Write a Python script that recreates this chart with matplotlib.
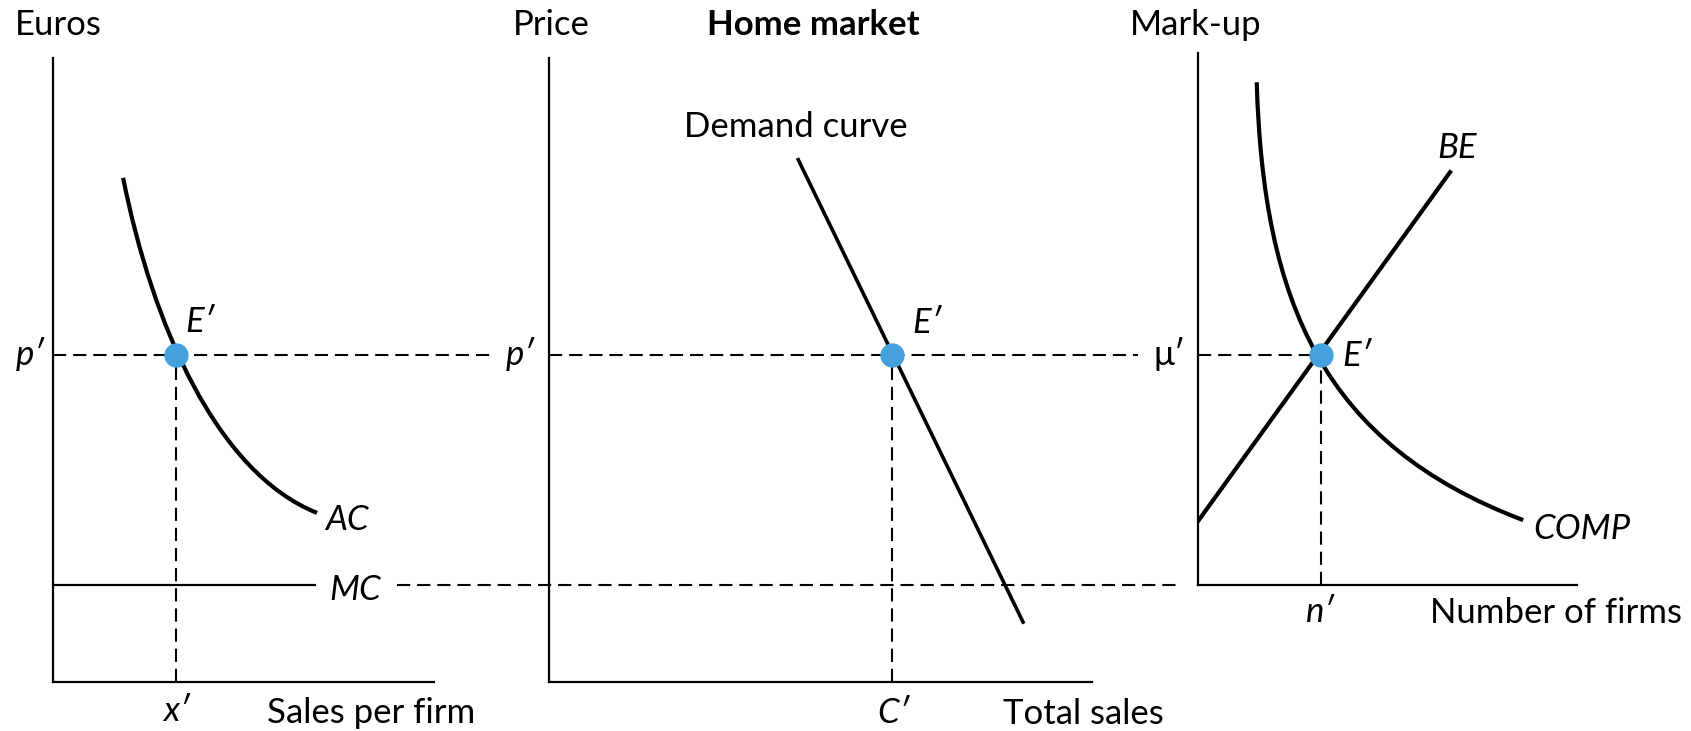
import matplotlib
matplotlib.use("Agg")
import matplotlib.pyplot as plt
from matplotlib.path import Path
from matplotlib.patches import PathPatch
from matplotlib.transforms import blended_transform_factory

# panel 1: firm costs (x = sales per firm, y = euros)
# AC curve as a cubic bezier: start, two control points, end
ac_x = [1.84, 2.61, 4.30, 6.93]
ac_y = [8.08, 5.72, 3.35, 2.71]
mc_x = [0, 6.88]
mc_level = 1.55
p_level = 5.24
x_eq = 3.23

# panel 2: home market demand
demand_x = [4.59, 8.73]
demand_y = [8.37, 0.96]
c_eq = 6.32

# panel 3: mark-up vs number of firms
comp_x = [1.55, 1.72, 3.30, 8.58]
comp_y = [9.45, 5.31, 2.64, 1.22]
be_x = [0, 6.65]
be_y = [1.20, 7.76]
mu_level = 4.32
n_eq = 3.24

W, H = 1691, 731
plt.rcParams["font.family"] = ["Lato", "DejaVu Sans"]
plt.rcParams["lines.scale_dashes"] = False
fs = 25
dot_color = "#45a1dd"
dash = (0, (9.5, 5))

fig = plt.figure(figsize=(W / 100, H / 100), dpi=100)


def box(l, r, b, t):
    return [l / W, 1 - b / H, (r - l) / W, (b - t) / H]


def txt(x, y, s, **kw):
    kw.setdefault("fontsize", fs)
    kw.setdefault("va", "center")
    fig.text(x / W, 1 - y / H, s, **kw)


def bezier(ax, xs, ys, lw):
    codes = [Path.MOVETO, Path.CURVE4, Path.CURVE4, Path.CURVE4]
    path = Path(list(zip(xs, ys)), codes)
    ax.add_patch(PathPatch(path, fill=False, edgecolor="black", lw=lw))


ax1 = fig.add_axes(box(53, 434, 682, 58))
ax2 = fig.add_axes(box(549, 1092, 682, 58))
ax3 = fig.add_axes(box(1198, 1577, 585, 53))

for ax in (ax1, ax2, ax3):
    ax.set_xlim(0, 10)
    ax.set_ylim(0, 10)
    ax.set_xticks([])
    ax.set_yticks([])
    ax.spines[["top", "right"]].set_visible(False)
    ax.spines[["left", "bottom"]].set_linewidth(1.6)
    ax.patch.set_visible(False)

# panel 1
bezier(ax1, ac_x, ac_y, 3)
ax1.plot(mc_x, [mc_level, mc_level], color="black", lw=1.6)
tr1 = blended_transform_factory(ax1.transAxes, ax1.transData)
ax1.plot([0, 1.152], [p_level, p_level], color="black", lw=1.5, ls=dash, transform=tr1, clip_on=False)
ax1.plot([0.903, 2.958], [mc_level, mc_level], color="black", lw=1.5, ls=dash, transform=tr1, clip_on=False)
ax1.plot([x_eq, x_eq], [0, p_level], color="black", lw=1.5, ls=dash)
ax1.plot([x_eq], [p_level], "o", color=dot_color, ms=16.5, zorder=5, clip_on=False)

# panel 2
ax2.plot(demand_x, demand_y, color="black", lw=2.6)
tr2 = blended_transform_factory(ax2.transAxes, ax2.transData)
ax2.plot([0, 1.085], [p_level, p_level], color="black", lw=1.5, ls=dash, transform=tr2, clip_on=False)
ax2.plot([c_eq, c_eq], [0, p_level], color="black", lw=1.5, ls=dash)
ax2.plot([c_eq], [p_level], "o", color=dot_color, ms=16.5, zorder=5, clip_on=False)

# panel 3
bezier(ax3, comp_x, comp_y, 3)
ax3.plot(be_x, be_y, color="black", lw=3)
ax3.plot([0, n_eq], [mu_level, mu_level], color="black", lw=1.5, ls=dash)
ax3.plot([n_eq, n_eq], [0, mu_level], color="black", lw=1.5, ls=dash)
ax3.plot([n_eq], [mu_level], "o", color=dot_color, ms=16.5, zorder=5, clip_on=False)

# titles and axis labels
txt(15, 25, "Euros")
txt(513, 25, "Price")
txt(707, 25, "Home market", fontweight="bold")
txt(1130, 25, "Mark-up")
txt(267, 713, "Sales per firm")
txt(1003, 714, "Total sales")
txt(1430, 613, "Number of firms")
txt(684, 127, "Demand curve")

# point labels
txt(30, 354, "p′", ha="center", style="italic")
txt(520, 354, "p′", ha="center", style="italic")
txt(1170, 354, "μ′", ha="center")
txt(176, 711, "x′", ha="center", style="italic")
txt(893, 713, "C′", ha="center", style="italic")
txt(1320, 612, "n′", ha="center", style="italic")
txt(200, 322, "E′", ha="center", style="italic")
txt(927, 323, "E′", ha="center", style="italic")
txt(1357, 356, "E′", ha="center", style="italic")
txt(325, 520, "AC", style="italic")
txt(329, 590, "MC", style="italic")
txt(1437, 148, "BE", style="italic")
txt(1533, 529, "COMP", style="italic")

fig.savefig("out.png", dpi=100)
